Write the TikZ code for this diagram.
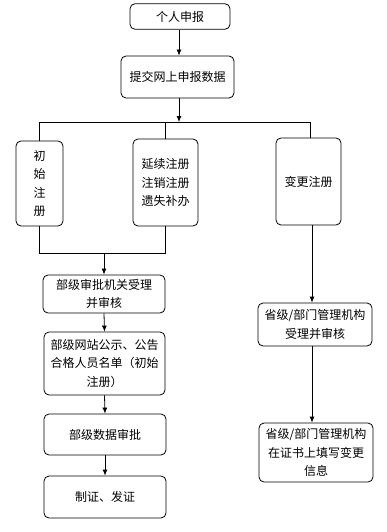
\documentclass[tikz,border=0pt]{standalone}
\usepackage{fontspec}
\setmainfont{Noto Sans CJK SC}
\usetikzlibrary{arrows.meta}
\begin{document}
\begin{tikzpicture}[x=1pt,y=-1pt,
  box/.style={draw,rounded corners=5pt,line width=0.8pt,inner sep=0pt,align=center,
    font=\fontsize{12}{18.5}\selectfont},
  link/.style={line width=0.8pt},
  arr/.style={line width=0.8pt,-{Latex[length=6pt,width=5pt]}}]
\useasboundingbox (0,0) rectangle (386,532);
\node[box,minimum width=100pt,minimum height=25.5pt] (n1) at (180,16.5) {个人申报};
\node[box,minimum width=113pt,minimum height=42pt] (n2) at (177.5,77) {提交网上申报数据};
\node[box,minimum width=47pt,minimum height=85pt] (a) at (39.5,183.5) {初\\始\\注\\册};
\node[box,minimum width=65pt,minimum height=87pt] (b) at (165.5,182.5) {延续注册\\注销注册\\遗失补办};
\node[box,minimum width=65pt,minimum height=87pt] (c) at (308.5,181.5) {变更注册};
\node[box,minimum width=122pt,minimum height=38pt] (d) at (104,294) {部级审批机关受理\\并审核};
\node[box,minimum width=121pt,minimum height=63pt] (e) at (104.5,363.5) {部级网站公示、公告\\合格人员名单（初始\\注册）};
\node[box,minimum width=122pt,minimum height=41pt] (f) at (105,434.5) {部级数据审批};
\node[box,minimum width=122pt,minimum height=42pt] (g) at (105,497) {制证、发证};
\node[box,minimum width=114pt,minimum height=43pt] (h) at (315,324.5) {省级/部门管理机构\\受理并审核};
\node[box,minimum width=114pt,minimum height=59pt] (i) at (316,452.5) {省级/部门管理机构\\在证书上填写变更\\信息};
\coordinate (top) at (179,122);
\coordinate (tl) at (39.5,122);
\coordinate (tr) at (310,122);
\coordinate (bl) at (39.5,253);
\coordinate (br) at (165.5,253);
\coordinate (rx) at (312,0);
\draw[arr] (n1.south -| top) -- (n2.north -| top);
\draw[arr] (n2.south -| top) -- (top);
\draw[link] (tl) -- (tr);
\draw[link] (tl) -- (a.north);
\draw[link] (b.north |- top) -- (b.north);
\draw[link] (tr) -- (c.north -| tr);
\draw[link] (a.south) -- (bl) -- (br) -- (b.south);
\draw[arr] (bl -| d.north) -- (d.north);
\draw[arr] (d.south) -- (e.north);
\draw[arr] (e.south) -- (f.north);
\draw[arr] (f.south) -- (g.north);
\draw[arr] (c.south -| rx) -- (h.north -| rx);
\draw[arr] (h.south -| rx) -- (i.north -| rx);
\end{tikzpicture}
\end{document}
